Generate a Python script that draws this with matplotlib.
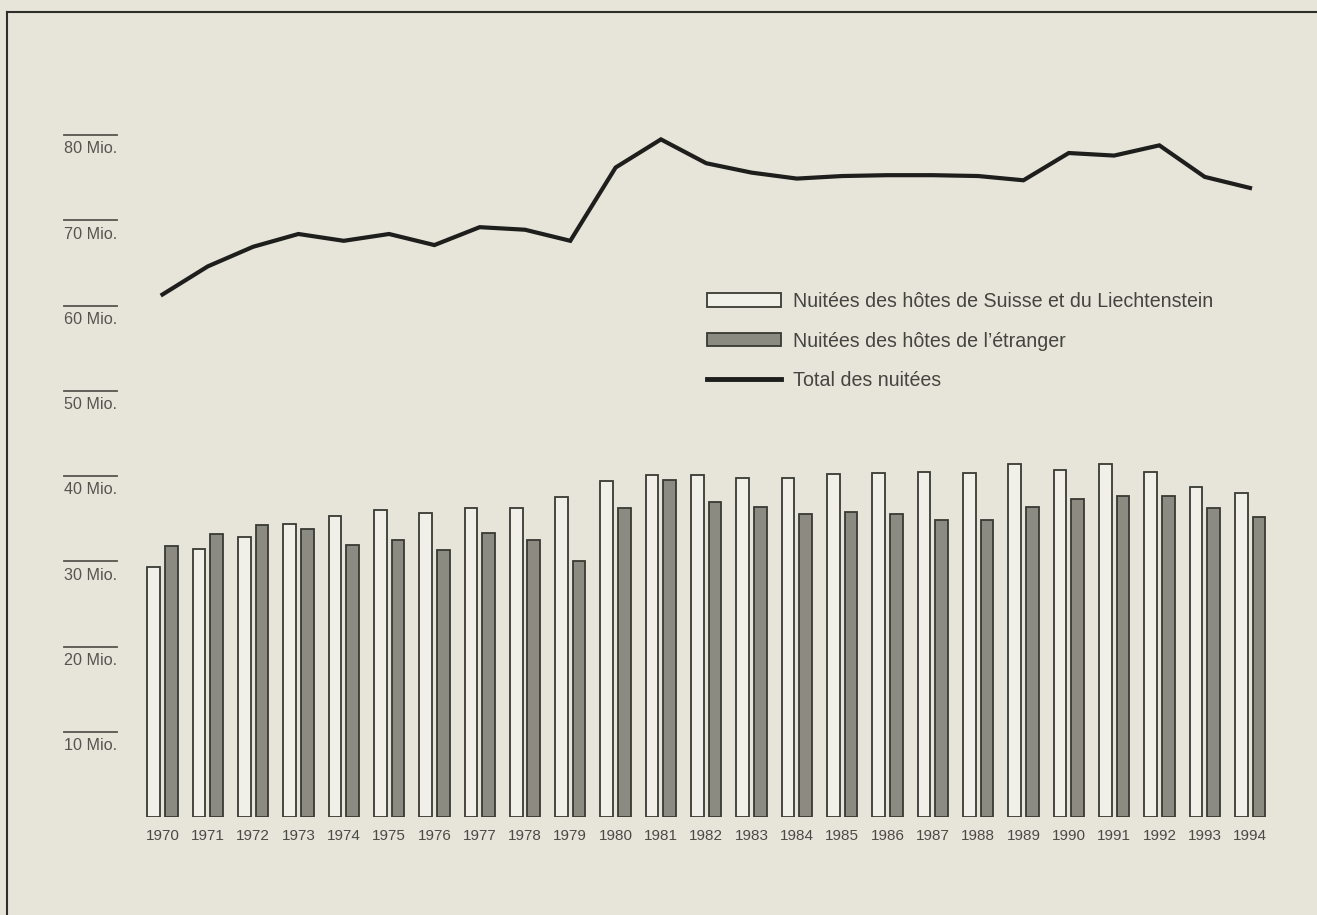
import numpy as np
import matplotlib
matplotlib.use("Agg")
import matplotlib.pyplot as plt
from matplotlib.lines import Line2D
from matplotlib.patches import Patch
from matplotlib.transforms import IdentityTransform

plt.rcParams['font.family'] = ['Liberation Sans', 'DejaVu Sans']

years = list(range(1970, 1995))
# millions of overnight stays
swiss = [29.3, 31.5, 32.8, 34.4, 35.3, 36.0, 35.7, 36.3, 36.3, 37.5,
         39.4, 40.1, 40.1, 39.8, 39.8, 40.2, 40.4, 40.5, 40.4, 41.4,
         40.7, 41.4, 40.5, 38.7, 38.0]
foreign = [31.8, 33.2, 34.2, 33.8, 31.9, 32.5, 31.3, 33.3, 32.5, 30.0,
           36.3, 39.5, 37.0, 36.4, 35.5, 35.8, 35.5, 34.8, 34.8, 36.4,
           37.3, 37.7, 37.7, 36.3, 35.2]
total = [61.3, 64.6, 66.9, 68.4, 67.6, 68.4, 67.1, 69.2, 68.9, 67.6,
         76.2, 79.5, 76.7, 75.6, 74.9, 75.2, 75.3, 75.3, 75.2, 74.7,
         77.9, 77.6, 78.8, 75.1, 73.8]
ytick_vals = [10, 20, 30, 40, 50, 60, 70, 80]
ytick_labels = [f"{v} Mio." for v in ytick_vals]
legend_labels = ["Nuitées des hôtes de Suisse et du Liechtenstein",
                 "Nuitées des hôtes de l’étranger",
                 "Total des nuitées"]

BG = '#e7e5da'
W, H = 1317, 915
fig = plt.figure(figsize=(W / 100, H / 100), dpi=100, facecolor=BG)

# axes placed so that group centres fall at the reference pixels
ax = fig.add_axes([135.3 / W, 98 / H, 1141.9 / W, 724.5 / H])
ax.set_facecolor('none')
x = np.arange(len(years))
bw = 0.28
off = 0.195

ax.bar(x - off, swiss, width=bw, facecolor='#f1f0e8', edgecolor='#3a3a34', linewidth=1.3)
ax.bar(x + off, foreign, width=bw, facecolor='#8b8b82', edgecolor='#3a3a34', linewidth=1.3)
ax.plot(x, total, color='#1e1e1c', linewidth=3, solid_joinstyle='miter')

ax.set_xlim(-0.6, 24.6)
ax.set_ylim(0, 85)
for s in ax.spines.values():
    s.set_visible(False)
ax.set_yticks([])
ax.set_xticks(x)
ax.set_xticklabels([str(y) for y in years], fontsize=11, color='#4a4a46')
ax.tick_params(axis='x', length=0, pad=8.5)

# y "ticks": short rule with label underneath
tr = ax.get_yaxis_transform()
x0 = (64 - 135.3) / 1141.9
x1 = (117 - 135.3) / 1141.9
for v, lab in zip(ytick_vals, ytick_labels):
    ax.plot([x0, x1], [v, v], transform=tr, color='#55554f', linewidth=1.3, clip_on=False)
    ax.annotate(lab, xy=(x0, v), xycoords=tr, xytext=(0, -13.2), textcoords='offset points',
                ha='left', va='baseline', fontsize=11.6, color='#55554f')

handles = [Patch(facecolor='#f1f0e8', edgecolor='#3a3a34', linewidth=1.3),
           Patch(facecolor='#8b8b82', edgecolor='#3a3a34', linewidth=1.3),
           Line2D([0], [0], color='#1e1e1c', linewidth=3.5)]
fig.legend(handles, legend_labels, loc='upper left', bbox_to_anchor=(707, H - 292),
           bbox_transform=IdentityTransform(), frameon=False, fontsize=14.1,
           labelcolor='#444440', handlelength=3.8, handleheight=0.68, handletextpad=0.58,
           labelspacing=1.05, borderpad=0, borderaxespad=0)

# frame of the printed chart (top and left edges visible)
fig.add_artist(Line2D([7 / W, 7 / W], [0, 1 - 12 / H], color='#2e2e2a', linewidth=1.5))
fig.add_artist(Line2D([7 / W, 1], [1 - 12 / H, 1 - 12 / H], color='#2e2e2a', linewidth=1.5))

fig.savefig('out.png', dpi=100, facecolor=BG)
